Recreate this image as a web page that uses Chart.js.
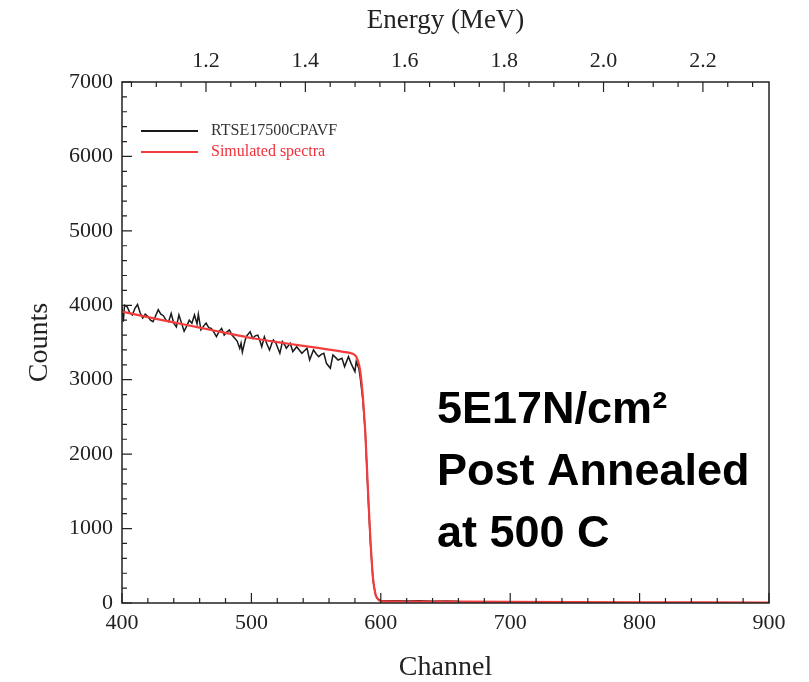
<!DOCTYPE html>
<html>
<head>
<meta charset="utf-8">
<script src="https://cdn.jsdelivr.net/npm/chart.js@4.4.0/dist/chart.umd.min.js"></script>
<style>
  html, body { margin: 0; padding: 0; background: #fff; }
</style>
</head>
<body>
<canvas id="rbsChart" width="809" height="682"></canvas>
<script>
const dataChannels = [400, 401, 402, 404, 406, 408, 410, 412, 414, 416, 418, 420, 422, 424, 426, 428, 430, 432, 434, 436,
    438, 440, 442, 444, 446, 448, 450, 452, 454, 456, 458, 459, 461, 463, 465, 467, 469, 471, 473, 475,
    477, 479, 481, 483, 485, 487, 489, 491, 492, 493, 495, 496, 499, 501, 503, 505, 507, 508, 510, 512,
    514, 516, 517, 519, 521, 522, 524, 526, 527, 530, 532, 535, 537, 539, 541, 543, 545, 548, 550, 552,
    554, 556, 558, 561, 563, 565, 567, 570, 572, 575, 577, 580, 581, 583, 584, 586, 588, 590, 592, 594,
    596, 598, 600, 610, 620, 630, 640, 650, 660];
const dataCounts = [3990, 3780, 4000, 3980, 3900, 3870, 3960, 4010, 3900, 3830, 3880, 3850, 3800, 3780, 3860, 3940, 3880, 3860, 3800, 3780,
    3890, 3760, 3710, 3870, 3760, 3650, 3720, 3800, 3760, 3870, 3750, 3880, 3670, 3720, 3760, 3700, 3690, 3640, 3580, 3650,
    3690, 3600, 3640, 3670, 3600, 3560, 3520, 3420, 3490, 3370, 3520, 3580, 3645, 3556, 3590, 3600, 3500, 3444, 3578, 3480,
    3400, 3500, 3534, 3489, 3400, 3355, 3511, 3460, 3422, 3489, 3378, 3444, 3400, 3355, 3390, 3422, 3265, 3400, 3350, 3310,
    3340, 3355, 3220, 3154, 3332, 3300, 3265, 3288, 3176, 3310, 3220, 3108, 3243, 3154, 3040, 2750, 2300, 1500, 800, 300,
    100, 50, 35, 30, 28, 30, 25, 27, 25];

// simulated spectrum (red)
const simChannels = [400, 420, 440, 460, 480, 500, 520, 540, 560, 576, 580, 582, 584, 586, 588, 590, 592, 594, 596, 598, 600, 620, 700, 800, 900];
const simCounts = [3915, 3840, 3770, 3700, 3630, 3560, 3505, 3455, 3405, 3360, 3330, 3270, 3130, 2800, 2300, 1550, 850, 330, 110, 45, 25, 20, 15, 10, 5];

const dataLabel = 'RTSE17500CPAVF';
const simLabel = 'Simulated spectra';

// axis ranges and ticks
const channelMin = 400, channelMax = 900;
const countsMin = 0, countsMax = 7000;
const energyMin = 1.031, energyMax = 2.333;
const energyTicks = [1.2, 1.4, 1.6, 1.8, 2.0, 2.2];

const noteLines = ['5E17N/cm\u00B2', 'Post Annealed', 'at 500 C'];

const serif = '"Liberation Serif", "Times New Roman", serif';

function toPoints(xs, ys) {
    return xs.map((x, i) => ({ x: x, y: ys[i] }));
}

function range(start, stop, step) {
    const out = [];
    for (let v = start; v <= stop + step / 1000; v += step) {
        out.push(Math.round(v * 1000) / 1000);
    }
    return out;
}

// frame, inward ticks, legend and note
const framePlugin = {
    id: 'framePlugin',
    afterDraw(chart) {
        const ctx = chart.ctx;
        const area = chart.chartArea;
        const sx = chart.scales.x;
        const sy = chart.scales.y;
        const sx2 = chart.scales.x2;
        ctx.save();
        ctx.strokeStyle = '#222';
        ctx.lineWidth = 1.5;
        ctx.strokeRect(area.left, area.top, area.right - area.left, area.bottom - area.top);

        ctx.lineWidth = 1.2;
        ctx.beginPath();
        range(channelMin, channelMax, 20).forEach(v => {
            const px = sx.getPixelForValue(v);
            const len = v % 100 === 0 ? 10 : 5;
            ctx.moveTo(px, area.bottom);
            ctx.lineTo(px, area.bottom - len);
        });
        range(countsMin, countsMax, 200).forEach(v => {
            const py = sy.getPixelForValue(v);
            const len = v % 1000 === 0 ? 10 : 5;
            ctx.moveTo(area.left, py);
            ctx.lineTo(area.left + len, py);
        });
        range(1.05, 2.3, 0.05).forEach(v => {
            const px = sx2.getPixelForValue(v);
            const major = energyTicks.some(t => Math.abs(t - v) < 1e-6);
            ctx.moveTo(px, area.top);
            ctx.lineTo(px, area.top + (major ? 10 : 5));
        });
        ctx.stroke();

        // legend inside the plot
        ctx.font = '16px ' + serif;
        ctx.textBaseline = 'middle';
        chart.data.datasets.forEach((ds, i) => {
            const y = area.top + 49 + i * 21;
            ctx.strokeStyle = ds.borderColor;
            ctx.lineWidth = 2;
            ctx.beginPath();
            ctx.moveTo(area.left + 19, y);
            ctx.lineTo(area.left + 76, y);
            ctx.stroke();
            ctx.fillStyle = ds.legendTextColor;
            ctx.fillText(ds.label, area.left + 89, y);
        });

        // note text
        ctx.fillStyle = '#000';
        ctx.font = 'bold 45px "Liberation Sans", Arial, sans-serif';
        ctx.textBaseline = 'alphabetic';
        noteLines.forEach((line, i) => {
            ctx.fillText(line, 437, 423 + i * 62);
        });
        ctx.restore();
    }
};

const chartConfig = {
    type: 'line',
    data: {
        datasets: [{
            label: dataLabel,
            data: toPoints(dataChannels, dataCounts),
            borderColor: '#1a1a1a',
            legendTextColor: '#333',
            borderWidth: 1.5,
            pointRadius: 0,
            tension: 0,
            order: 1
        }, {
            label: simLabel,
            data: toPoints(simChannels, simCounts),
            borderColor: '#f43c3c',
            legendTextColor: '#f0303a',
            borderWidth: 2.2,
            pointRadius: 0,
            tension: 0.2,
            order: 0
        }]
    },
    options: {
        responsive: false,
        animation: false,
        layout: {
            padding: { right: 40 }
        },
        plugins: {
            legend: { display: false },
            tooltip: { enabled: false }
        },
        scales: {
            x: {
                type: 'linear',
                position: 'bottom',
                min: channelMin,
                max: channelMax,
                grid: { display: false, drawTicks: false },
                border: { display: false },
                ticks: {
                    stepSize: 100,
                    padding: 7,
                    color: '#222',
                    font: { family: serif, size: 22 },
                    callback: v => String(v)
                },
                title: {
                    display: true,
                    text: 'Channel',
                    color: '#222',
                    font: { family: serif, size: 28, lineHeight: 1 },
                    padding: { top: 0, bottom: 0 }
                },
                afterFit(scale) { scale.height = 79; }
            },
            x2: {
                type: 'linear',
                position: 'top',
                min: energyMin,
                max: energyMax,
                grid: { display: false, drawTicks: false },
                border: { display: false },
                afterBuildTicks(scale) {
                    scale.ticks = energyTicks.map(v => ({ value: v }));
                },
                ticks: {
                    padding: 8,
                    color: '#222',
                    font: { family: serif, size: 22 },
                    callback: v => v.toFixed(1)
                },
                title: {
                    display: true,
                    text: 'Energy (MeV)',
                    color: '#222',
                    font: { family: serif, size: 27, lineHeight: 1 },
                    padding: { top: 7, bottom: 0 }
                },
                afterFit(scale) { scale.height = 82; }
            },
            y: {
                type: 'linear',
                min: countsMin,
                max: countsMax,
                grid: { display: false, drawTicks: false },
                border: { display: false },
                ticks: {
                    stepSize: 1000,
                    padding: 9,
                    color: '#222',
                    font: { family: serif, size: 22 },
                    callback: v => String(v)
                },
                title: {
                    display: true,
                    text: 'Counts',
                    color: '#222',
                    font: { family: serif, size: 28, lineHeight: 1 },
                    padding: { top: 26, bottom: 0 }
                },
                afterFit(scale) { scale.width = 122; }
            }
        }
    },
    plugins: [framePlugin]
};

new Chart(
    document.getElementById('rbsChart'),
    chartConfig
);
</script>
</body>
</html>
